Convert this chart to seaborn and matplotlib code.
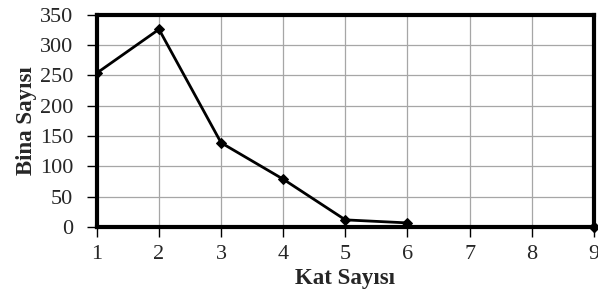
import numpy as np
import pandas as pd
import matplotlib
matplotlib.use('Agg')
import matplotlib.pyplot as plt
import seaborn as sns

# Kat sayisi vs bina sayisi (7 and 8 have no value)
kat = [1, 2, 3, 4, 5, 6, 7, 8, 9]
bina = [254, 326, 139, 79, 12, 7, np.nan, np.nan, 0]

df = pd.DataFrame({'Kat': kat, 'Bina': bina})

sns.set_style('white')
plt.rcParams['font.family'] = ['Liberation Serif', 'DejaVu Serif']

fig, ax = plt.subplots(figsize=(5.98, 2.95), dpi=100)

# connected run 1..6, then the lone point at 9
run = df[df['Kat'] <= 6]
alone = df[df['Kat'] > 6].dropna()
sns.lineplot(x='Kat', y='Bina', data=run, ax=ax, color='black', linewidth=2,
             marker='D', markersize=5, markeredgecolor='black')
ax.plot(alone['Kat'], alone['Bina'], 'D', color='black', markersize=5, clip_on=False, zorder=5)

ax.set_xlim(1, 9)
ax.set_ylim(0, 350)
ax.set_xticks(range(1, 10))
ax.set_yticks(range(0, 351, 50))
ax.grid(True, color='#a6a6a6', linewidth=0.9)
for s in ax.spines.values():
    s.set_linewidth(3)
    s.set_color('black')
ax.tick_params(axis='both', labelsize=16, length=7, width=1, color='black',
               direction='out', bottom=True, left=True)
ax.tick_params(axis='y', pad=10)
ax.tick_params(axis='x', pad=6)
ax.set_xlabel('Kat Sayısı', fontsize=16.5, fontweight='bold', labelpad=3)
ax.set_ylabel('Bina Sayısı', fontsize=16.5, fontweight='bold', labelpad=2)

fig.subplots_adjust(left=0.162, right=0.993, top=0.95, bottom=0.23)
fig.savefig('out.png', dpi=100)
